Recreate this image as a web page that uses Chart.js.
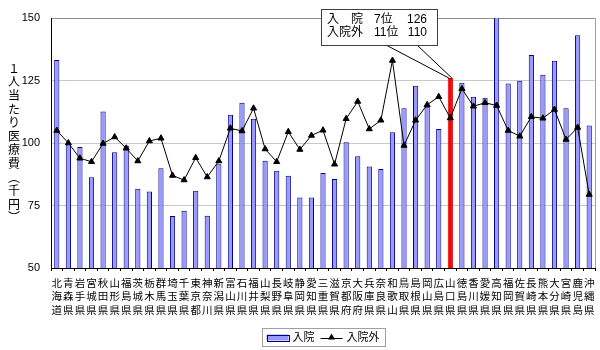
<!DOCTYPE html>
<html><head><meta charset="utf-8">
<script src="https://cdn.jsdelivr.net/npm/chart.js@4"></script>
<style>html,body{margin:0;padding:0;background:#fff}#wrap{width:600px;height:350px}</style>
</head><body><div id="wrap"><canvas id="c" width="600" height="350"></canvas></div>
<script>
const prefectures = ['北海道','青森県','岩手県','宮城県','秋田県','山形県','福島県','茨城県','栃木県','群馬県','埼玉県','千葉県','東京都','神奈川','新潟県','富山県','石川県','福井県','山梨県','長野県','岐阜県','静岡県','愛知県','三重県','滋賀県','京都府','大阪府','兵庫県','奈良県','和歌山','鳥取県','島根県','岡山県','広島県','山口県','徳島県','香川県','愛媛県','高知県','福岡県','佐賀県','長崎県','熊本県','大分県','宮崎県','鹿児島','沖縄県'];
const inpatient = [133.2,100.0,98.4,86.3,112.6,96.3,99.0,81.7,80.6,89.9,70.8,72.9,80.9,70.9,91.5,111.3,116.1,109.7,92.9,88.9,86.9,78.2,78.2,88.0,85.6,100.3,94.7,90.6,89.6,104.3,113.9,122.9,114.5,105.6,126.0,124.1,118.5,118.1,151.0,123.8,124.9,135.2,127.3,132.9,113.9,143.1,107.0];
const outpatient = [105.0,100.0,93.9,92.5,99.8,102.4,97.9,92.8,100.8,101.9,87.0,85.2,94.1,86.4,92.8,105.9,104.8,113.9,97.6,92.5,104.5,97.4,103.0,105.1,91.5,109.7,116.6,105.6,109.1,133.0,99.0,109.1,115.3,118.5,110.0,121.7,114.7,116.1,115.0,105.0,102.7,110.5,109.9,113.4,101.4,106.2,79.4];
const yMin = 50, yMax = 150, yStep = 25;
const seriesNames = ['入院','入院外'];
const yTitle = '１人当たり医療費︵千円︶';
const highlightName = '山口県';
const noteRows = [['入　院','7位','126'],['入院外','11位','110']];

const FONT = "'Liberation Sans', 'Noto Sans CJK JP', sans-serif";
const hi = prefectures.indexOf(highlightName);
const barFill = inpatient.map((v,i)=> i===hi ? '#ff0000' : '#9999ff');
const barBorder = inpatient.map((v,i)=> i===hi ? '#cc0000' : '#000080');

const deco = {
  id: 'deco',
  afterDraw(chart) {
    const ctx = chart.ctx, a = chart.chartArea;
    const ys = chart.scales.y;
    ctx.save();
    ctx.strokeStyle = '#a0a0a0'; ctx.lineWidth = 1;
    ctx.beginPath(); ctx.moveTo(Math.round(a.right)+0.5, a.top); ctx.lineTo(Math.round(a.right)+0.5, a.bottom); ctx.stroke();
    // y title vertical
    ctx.fillStyle = '#000';
    ctx.font = "12px 'Noto Sans CJK JP', sans-serif";
    ctx.textAlign = 'center'; ctx.textBaseline = 'middle';
    const chars = Array.from(yTitle);
    const step = 13.6;
    const midY = (a.top + a.bottom)/2;
    const y0 = midY - step*(chars.length-1)/2;
    chars.forEach((ch,i)=> ctx.fillText(ch, 14, y0 + i*step));
    // annotation box
    const bx = 321, by = 9, bw = 116, bh = 36;
    const bar = chart.getDatasetMeta(0).data[hi];
    const topY = ys.getPixelForValue(inpatient[hi]);
    ctx.strokeStyle = '#000'; ctx.lineWidth = 1;
    ctx.beginPath();
    ctx.moveTo(386, by+bh); ctx.lineTo(bar.x-1.5, topY);
    ctx.moveTo(417, by+bh); ctx.lineTo(bar.x+1.5, topY);
    ctx.stroke();
    ctx.fillStyle = '#fff';
    ctx.fillRect(bx, by, bw, bh);
    ctx.strokeStyle = '#404040';
    ctx.strokeRect(bx+0.5, by+0.5, bw, bh);
    ctx.fillStyle = '#000';
    ctx.font = "12px " + FONT;
    ctx.textBaseline = 'middle';
    noteRows.forEach((r,i)=>{
      const yy = by + 11 + i*13;
      ctx.textAlign = 'left';
      ctx.fillText(r[0], bx+6, yy);
      ctx.fillText(r[1], bx+53, yy);
      ctx.textAlign = 'right';
      ctx.fillText(r[2], bx+106, yy);
    });
    // legend
    ctx.font = "11px " + FONT;
    const w1 = ctx.measureText(seriesNames[0]).width, w2 = ctx.measureText(seriesNames[1]).width;
    const sw = 22, gap = 4, sep = 6;
    const total = 5 + sw + gap + w1 + sep + sw + gap + w2 + 5;
    const lx = (a.left + a.right)/2 - total/2, ly = 328, lh = 18;
    ctx.fillStyle = '#fff'; ctx.fillRect(lx, ly, total, lh);
    ctx.strokeStyle = '#a0a0a0'; ctx.strokeRect(Math.round(lx)+0.5, ly+0.5, Math.round(total), lh);
    let cx = lx + 5; const cy = ly + lh/2 + 0.5;
    ctx.fillStyle = '#9999ff'; ctx.fillRect(cx, cy-3, sw, 6);
    ctx.strokeStyle = '#000080'; ctx.strokeRect(Math.round(cx)+0.5, Math.round(cy-3)+0.5, sw, 6);
    cx += sw + gap;
    ctx.fillStyle = '#000'; ctx.textAlign = 'left'; ctx.textBaseline = 'middle';
    ctx.fillText(seriesNames[0], cx, cy);
    cx += w1 + sep;
    ctx.strokeStyle = '#000';
    ctx.beginPath(); ctx.moveTo(cx, Math.round(cy)+0.5); ctx.lineTo(cx+sw, Math.round(cy)+0.5); ctx.stroke();
    ctx.beginPath(); ctx.moveTo(cx+sw/2, cy-4); ctx.lineTo(cx+sw/2+3.5, cy+2); ctx.lineTo(cx+sw/2-3.5, cy+2); ctx.closePath(); ctx.fill();
    cx += sw + gap;
    ctx.fillText(seriesNames[1], cx, cy);
    ctx.restore();
  }
};

new Chart(document.getElementById('c'), {
  data: {
    labels: prefectures.map(p => Array.from(p)),
    datasets: [
      { type: 'bar', label: seriesNames[0], data: inpatient, backgroundColor: barFill, borderColor: barBorder, borderWidth: 1, barPercentage: 0.45, categoryPercentage: 1, order: 1 },
      { type: 'line', label: seriesNames[1], data: outpatient, borderColor: '#000', borderWidth: 1, pointStyle: 'triangle', pointRadius: 3.5, pointBackgroundColor: '#000', pointBorderColor: '#000', pointBorderWidth: 1, tension: 0, order: 0 }
    ]
  },
  options: {
    responsive: false, animation: false, devicePixelRatio: 1,
    layout: { padding: { left: 0, top: 18, right: 5, bottom: 32 } },
    plugins: { legend: { display: false }, tooltip: { enabled: false } },
    scales: {
      x: {
        offset: true,
        grid: { offset: true, drawOnChartArea: false, drawTicks: true, tickLength: 3, color: '#000' },
        border: { color: '#000' },
        ticks: { autoSkip: false, maxRotation: 0, minRotation: 0, padding: 5, color: '#000', font: { size: 10.5, family: "'Noto Sans CJK JP', sans-serif", lineHeight: 1.3 } },
        afterFit(s) { s.height = 50; }
      },
      y: {
        min: yMin, max: yMax,
        grid: { color: ctx => ctx.tick && ctx.tick.value === yMax ? '#909090' : '#c8c8c8', drawTicks: false },
        border: { color: '#000' },
        ticks: { stepSize: yStep, padding: 11, color: '#000', font: { size: 11, family: FONT } },
        afterFit(s) { s.width = 51; }
      }
    }
  },
  plugins: [deco]
});
</script></body></html>
